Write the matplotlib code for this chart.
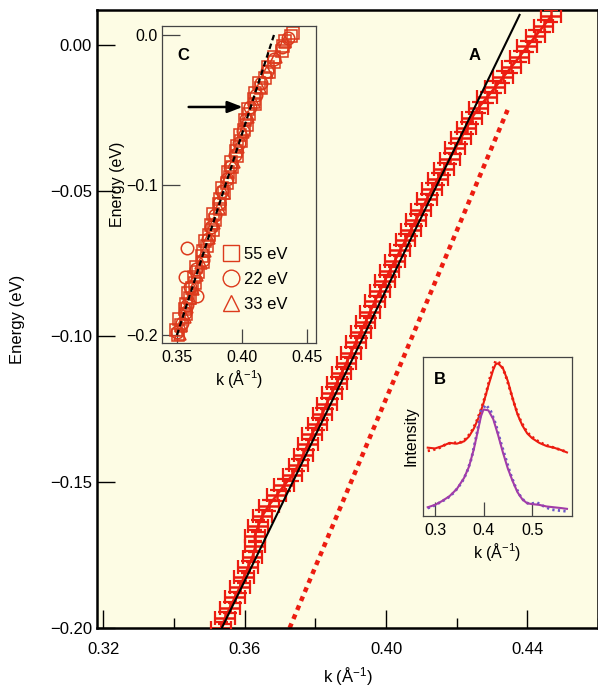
import matplotlib
matplotlib.use("Agg")
import matplotlib.pyplot as plt
from matplotlib.lines import Line2D

plt.rcParams['font.family'] = ['Liberation Sans', 'DejaVu Sans']
plt.rcParams['mathtext.fontset'] = 'custom'
plt.rcParams['mathtext.rm'] = 'Liberation Sans'
plt.rcParams['mathtext.default'] = 'regular'

# ---------------- data: panel A ----------------
energy_A = [-0.200, -0.1965, -0.193, -0.1895, -0.186, -0.1825, -0.179, -0.1755, -0.172, -0.1685,
            -0.165, -0.1615, -0.158, -0.1545, -0.151, -0.1475, -0.144, -0.1405, -0.137, -0.1335,
            -0.130, -0.1265, -0.123, -0.1195, -0.116, -0.1125, -0.109, -0.1055, -0.102, -0.0985,
            -0.095, -0.0915, -0.088, -0.0845, -0.081, -0.0775, -0.074, -0.0705, -0.067, -0.0635,
            -0.060, -0.0565, -0.053, -0.0495, -0.046, -0.0425, -0.039, -0.0355, -0.032, -0.0285,
            -0.025, -0.0215, -0.018, -0.0145, -0.011, -0.0075, -0.004, -0.0005, 0.003, 0.0065, 0.010]
k_A = [0.3532, 0.3545, 0.3558, 0.3572, 0.3586, 0.3598, 0.3610, 0.3622, 0.3630, 0.3628,
       0.3638, 0.3650, 0.3668, 0.3690, 0.3712, 0.3735, 0.3752, 0.3766, 0.3778, 0.3790,
       0.3806, 0.3820, 0.3832, 0.3846, 0.3860, 0.3874, 0.3888, 0.3901, 0.3914, 0.3928,
       0.3942, 0.3955, 0.3968, 0.3982, 0.3996, 0.4010, 0.4025, 0.4040, 0.4055, 0.4070,
       0.4085, 0.4100, 0.4115, 0.4130, 0.4146, 0.4163, 0.4180, 0.4196, 0.4212, 0.4228,
       0.4243, 0.4262, 0.4286, 0.4309, 0.4332, 0.4355, 0.4378, 0.4400, 0.4423, 0.4446, 0.4468]
k_err_A = 0.0028
e_err_A = 0.0020

fit_k = [0.3535, 0.4378]
fit_E = [-0.200, 0.0103]
bare_k = [0.3727, 0.4344]
bare_E = [-0.200, -0.0223]

xticks_A = [0.32, 0.36, 0.40, 0.44]
xminor_A = [0.34, 0.38, 0.42, 0.46]
yticks_A = [0.00, -0.05, -0.10, -0.15, -0.20]

# ---------------- data: panel C (inset) ----------------
sq_E = [-0.2000, -0.1965, -0.1930, -0.1895, -0.1860, -0.1825, -0.1790, -0.1755, -0.1720, -0.1685,
        -0.1650, -0.1615, -0.1580, -0.1545, -0.1510, -0.1475, -0.1440, -0.1405, -0.1370, -0.1335,
        -0.1300, -0.1265, -0.1230, -0.1195, -0.1160, -0.1125, -0.1090, -0.1055, -0.1020, -0.0985,
        -0.0950, -0.0915, -0.0880, -0.0845, -0.0810, -0.0775, -0.0740, -0.0705, -0.0670, -0.0635,
        -0.0600, -0.0565, -0.0530, -0.0495, -0.0460, -0.0425, -0.0390, -0.0355, -0.0320, -0.0285,
        -0.0250, -0.0215, -0.0180, -0.0145, -0.0110, -0.0075, -0.0040, -0.0005, 0.0010]
sq_k = [0.3510, 0.3496, 0.3529, 0.3517, 0.3568, 0.3561, 0.3566, 0.3599, 0.3585, 0.3619,
        0.3642, 0.3628, 0.3661, 0.3648, 0.3699, 0.3693, 0.3698, 0.3731, 0.3717, 0.3750,
        0.3774, 0.3760, 0.3793, 0.3780, 0.3831, 0.3824, 0.3830, 0.3863, 0.3849, 0.3882,
        0.3905, 0.3891, 0.3925, 0.3912, 0.3963, 0.3956, 0.3961, 0.3994, 0.3981, 0.4014,
        0.4037, 0.4023, 0.4057, 0.4044, 0.4098, 0.4094, 0.4103, 0.4143, 0.4134, 0.4174,
        0.4207, 0.4203, 0.4247, 0.4246, 0.4308, 0.4312, 0.4329, 0.4374, 0.4390]
ci_E = [-0.198, -0.192, -0.185, -0.180, -0.174, -0.168, -0.161, -0.156, -0.150, -0.142,
        -0.136, -0.128, -0.120, -0.112, -0.104, -0.096, -0.088, -0.080, -0.072, -0.064,
        -0.056, -0.048, -0.040, -0.032, -0.024, -0.016, -0.008, -0.002]
ci_k = [0.3500, 0.3540, 0.3565, 0.3580, 0.3655, 0.3600, 0.3560, 0.3650, 0.3700, 0.3577,
        0.3735, 0.3760, 0.3790, 0.3820, 0.3850, 0.3885, 0.3910, 0.3945, 0.3975, 0.4005,
        0.4030, 0.4065, 0.4105, 0.4150, 0.4195, 0.4245, 0.4305, 0.4350]
tr_E = [-0.199, -0.194, -0.188, -0.181, -0.175, -0.169, -0.160, -0.152, -0.144, -0.135,
        -0.125, -0.115, -0.105, -0.095, -0.085, -0.075, -0.065, -0.055, -0.045, -0.035,
        -0.025, -0.015, -0.005]
tr_k = [0.3520, 0.3530, 0.3560, 0.3580, 0.3600, 0.3625, 0.3655, 0.3685, 0.3715, 0.3745,
        0.3785, 0.3820, 0.3860, 0.3895, 0.3935, 0.3970, 0.4005, 0.4045, 0.4090, 0.4135,
        0.4190, 0.4260, 0.4330]
dash_k = [0.3500, 0.4246]
dash_E = [-0.200, 0.000]
legend_C = ['55 eV', '22 eV', '33 eV']
xticks_C = [0.35, 0.40, 0.45]
yticks_C = [0.0, -0.1, -0.2]

# ---------------- data: panel B (inset) ----------------
fitB_red_k = [0.285, 0.30, 0.315, 0.33, 0.345, 0.36, 0.37, 0.38, 0.39, 0.40, 0.41, 0.42, 0.425,
              0.43, 0.44, 0.45, 0.46, 0.47, 0.48, 0.49, 0.50, 0.515, 0.53, 0.545, 0.56, 0.572]
fitB_red_I = [0.43, 0.425, 0.44, 0.46, 0.455, 0.47, 0.50, 0.55, 0.62, 0.71, 0.82, 0.92, 0.955,
              0.96, 0.93, 0.85, 0.74, 0.64, 0.57, 0.52, 0.49, 0.46, 0.44, 0.43, 0.415, 0.40]
datB_red_k = [0.285, 0.295, 0.31, 0.325, 0.34, 0.355, 0.365, 0.375, 0.385, 0.395, 0.405, 0.415, 0.425,
              0.435, 0.445, 0.455, 0.465, 0.475, 0.485, 0.495, 0.51, 0.525, 0.54, 0.555, 0.57]
datB_red_I = [0.41, 0.415, 0.43, 0.455, 0.46, 0.465, 0.49, 0.53, 0.59, 0.67, 0.77, 0.89, 0.975,
              0.96, 0.89, 0.79, 0.69, 0.61, 0.55, 0.51, 0.475, 0.45, 0.435, 0.42, 0.405]
fitB_pur_k = [0.285, 0.30, 0.315, 0.33, 0.345, 0.36, 0.37, 0.38, 0.39, 0.395, 0.40, 0.41, 0.42,
              0.43, 0.44, 0.45, 0.46, 0.47, 0.48, 0.49, 0.50, 0.515, 0.53, 0.545, 0.56, 0.572]
fitB_pur_I = [0.055, 0.07, 0.095, 0.125, 0.17, 0.24, 0.31, 0.42, 0.56, 0.63, 0.67, 0.665, 0.61,
              0.51, 0.40, 0.30, 0.22, 0.15, 0.105, 0.08, 0.075, 0.07, 0.06, 0.055, 0.05, 0.045]
datB_pur_k = [0.285, 0.295, 0.31, 0.325, 0.34, 0.355, 0.365, 0.375, 0.385, 0.395, 0.405, 0.415, 0.425,
              0.435, 0.445, 0.455, 0.465, 0.475, 0.485, 0.495, 0.51, 0.525, 0.54, 0.555, 0.57]
datB_pur_I = [0.05, 0.06, 0.085, 0.11, 0.15, 0.21, 0.27, 0.36, 0.50, 0.66, 0.70, 0.66, 0.58,
              0.47, 0.37, 0.27, 0.19, 0.13, 0.09, 0.075, 0.085, 0.06, 0.04, 0.035, 0.03]
xticks_B = [0.3, 0.4, 0.5]

# ---------------- styling ----------------
BG = '#FDFCE4'
RED = '#EC1C10'
ORANGE_RED = '#DC3A1C'
PURPLE_LINE = '#A23CA8'
PURPLE_DOT = '#6A58C8'
klabel = 'k (Å$^{-1}$)'

fig = plt.figure(figsize=(5.98, 6.96), dpi=100)
fig.patch.set_facecolor('white')

# ---------- main axes (A) ----------
ax = fig.add_axes([0.1630, 0.0977, 0.837, 0.888])
ax.set_facecolor(BG)
ax.set_xlim(0.3183, 0.46)
ax.set_ylim(-0.20, 0.012)
for s in ax.spines.values():
    s.set_linewidth(1.8)
    s.set_color('black')

ax.plot(bare_k, bare_E, color=RED, lw=3.2, linestyle=(0, (1.1, 1.1)), zorder=2)
ax.errorbar(k_A, energy_A, xerr=k_err_A, yerr=e_err_A, fmt='-', color=RED, ecolor=RED,
            lw=1.8, elinewidth=1.8, capsize=5, capthick=1.6, zorder=3)
ax.plot(fit_k, fit_E, color='black', lw=1.5, zorder=4)

ax.set_xticks(xticks_A)
ax.set_xticklabels(['%.2f' % v for v in xticks_A])
ax.set_xticks(xminor_A, minor=True)
ax.set_yticks(yticks_A)
ax.set_yticklabels(['%.2f' % v if v == 0 else '\u2212%.2f' % abs(v) for v in yticks_A])
ax.tick_params(axis='both', which='major', direction='in', length=13, width=1.0,
               labelsize=12, colors='black')
ax.tick_params(axis='x', which='major', pad=10)
ax.tick_params(axis='y', which='major', pad=4)
ax.tick_params(axis='x', which='minor', direction='in', length=7, width=1.0)
ax.set_xlabel(klabel, fontsize=12, labelpad=6)
ax.set_ylabel('Energy (eV)', fontsize=12, labelpad=18)
ax.text(0.425, -0.0035, 'A', fontsize=12, fontweight='bold', ha='center', va='center')

# ---------- inset C ----------
axc = fig.add_axes([0.2709, 0.5072, 0.2575, 0.4555])
axc.set_facecolor(BG)
axc.set_xlim(0.3385, 0.4569)
axc.set_ylim(-0.2053, 0.006)
for s in axc.spines.values():
    s.set_linewidth(0.9)
    s.set_color('#444444')
axc.plot(sq_k, sq_E, linestyle='none', marker='s', ms=8.5, mfc='none', mec=ORANGE_RED, mew=1.1)
axc.plot(ci_k, ci_E, linestyle='none', marker='o', ms=9, mfc='none', mec=ORANGE_RED, mew=1.1)
axc.plot(tr_k, tr_E, linestyle='none', marker='^', ms=9, mfc='none', mec=ORANGE_RED, mew=1.1)
axc.plot(dash_k, dash_E, color='black', lw=1.6, linestyle=(0, (2.5, 1.6)), zorder=5)
axc.annotate('', xy=(0.4005, -0.048), xytext=(0.3590, -0.048),
             arrowprops=dict(arrowstyle='-|>,head_length=0.9,head_width=0.35', lw=1.8,
                             color='black', shrinkA=0, shrinkB=0), zorder=6)
axc.set_xticks(xticks_C)
axc.set_xticklabels(['%.2f' % v for v in xticks_C])
axc.set_yticks(yticks_C)
axc.set_yticklabels(['0.0', '\u22120.1', '\u22120.2'])
axc.tick_params(axis='y', direction='in', length=13, width=0.9, labelsize=11.5, pad=3, color='#444444')
axc.tick_params(axis='x', direction='in', length=10, width=0.9, labelsize=11.5, pad=5, color='#444444')
axc.set_xlabel(klabel, fontsize=11.5, labelpad=2)
axc.set_ylabel('Energy (eV)', fontsize=11.5, labelpad=1)
axc.text(0.3548, -0.014, 'C', fontsize=12, fontweight='bold', ha='center', va='center')
handles = [Line2D([], [], linestyle='none', marker='s', ms=11, mfc='none', mec=ORANGE_RED, mew=1.0),
           Line2D([], [], linestyle='none', marker='o', ms=12, mfc='none', mec=ORANGE_RED, mew=1.0),
           Line2D([], [], linestyle='none', marker='^', ms=12, mfc='none', mec=ORANGE_RED, mew=1.0)]
axc.legend(handles, legend_C, loc='upper left', bbox_to_anchor=(0.33, 0.33), frameon=False,
           fontsize=12, handletextpad=0.15, labelspacing=0.6, borderpad=0, handlelength=1.2)

# ---------- inset B ----------
axb = fig.add_axes([0.7074, 0.2586, 0.2492, 0.2284])
axb.set_facecolor(BG)
axb.set_xlim(0.2753, 0.5825)
axb.set_ylim(0, 1)
for s in axb.spines.values():
    s.set_linewidth(0.9)
    s.set_color('#444444')
axb.plot(datB_red_k, datB_red_I, color=RED, lw=2.0, linestyle=(0, (0.8, 1.2)))
axb.plot(fitB_red_k, fitB_red_I, color=RED, lw=1.5)
axb.plot(datB_pur_k, datB_pur_I, color=PURPLE_DOT, lw=2.0, linestyle=(0, (0.8, 1.2)))
axb.plot(fitB_pur_k, fitB_pur_I, color=PURPLE_LINE, lw=1.5)
axb.set_xticks(xticks_B)
axb.set_xticklabels(['%.1f' % v for v in xticks_B])
axb.set_yticks([])
axb.tick_params(axis='x', direction='in', length=10, width=0.9, labelsize=11.5, pad=5, color='#444444')
axb.set_xlabel(klabel, fontsize=11.5, labelpad=2)
axb.set_ylabel('Intensity', fontsize=11.5, labelpad=3)
axb.text(0.31, 0.86, 'B', fontsize=12, fontweight='bold', ha='center', va='center')

fig.savefig('out.png', dpi=100, facecolor='white')
